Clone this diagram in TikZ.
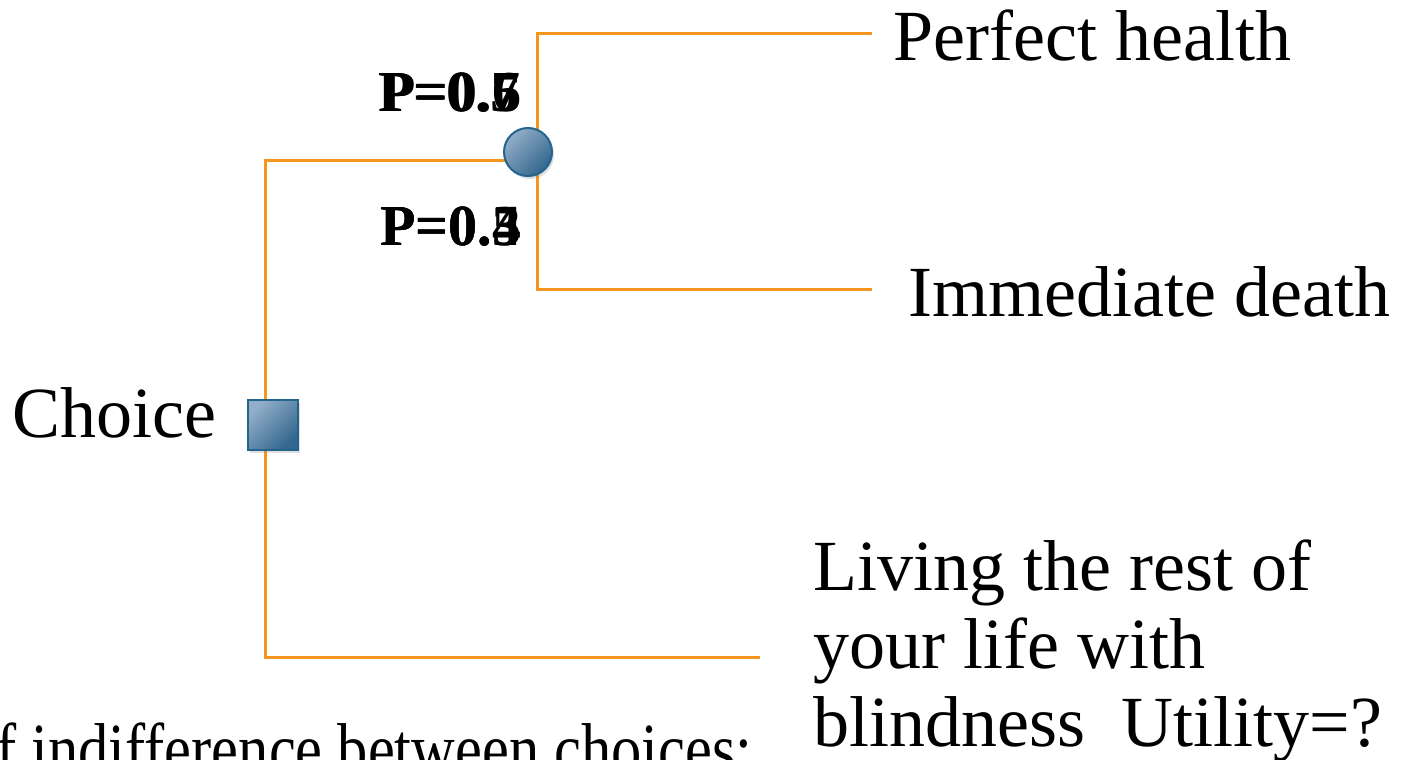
\documentclass[tikz,border=0pt]{standalone}
\usepackage{fontspec}
\setmainfont{Liberation Serif}
\usetikzlibrary{shadows}
\definecolor{branchcol}{RGB}{245,150,30}
\definecolor{nodeedge}{RGB}{34,100,140}
\definecolor{nodelight}{RGB}{146,174,200}
\definecolor{nodedark}{RGB}{50,102,142}
\begin{document}
\begin{tikzpicture}[x=0.5pt,y=-0.5pt,
  branch/.style={draw=branchcol, line width=1.5pt},
  txt/.style={anchor=base west, inner sep=0pt, font=\fontsize{36}{38.75}\selectfont},
  prob/.style={anchor=base west, inner sep=0pt, font=\fontsize{29}{31}\selectfont\bfseries},
  nodefill/.style={draw=nodeedge, line width=1pt, top color=nodelight, bottom color=nodedark, shading angle=45,
    drop shadow={shadow xshift=1pt, shadow yshift=-1.5pt, opacity=0.25}},
  chancenode/.style={nodefill, circle, minimum size=24pt, inner sep=0pt},
  decisionnode/.style={nodefill, rectangle, minimum size=25pt, inner sep=0pt}
]
\useasboundingbox (0,0) rectangle (1420,760);

% branch points
\coordinate (cin) at (528,160);
\coordinate (trunkTop) at (265,160);
\coordinate (trunkBot) at (265,657);
\coordinate (blindEnd) at (760,657);
\coordinate (upTop) at (537,33);
\coordinate (upEnd) at (872,33);
\coordinate (downBot) at (537,289);
\coordinate (downEnd) at (872,289);

\draw[branch] (cin) -- (trunkTop) -- (trunkBot) -- (blindEnd);
\draw[branch] (upEnd) -- (upTop) -- (downBot) -- (downEnd);

\node[decisionnode] (choicebox) at (273,425) {};
\node[chancenode] (chance) at (528,152) {};

% probabilities (overlaid)
\node[prob] (pua) at (378,111) {P=0.5};
\node[prob] (pub) at (380,111) {P=0.6};
\node[prob] (puc) at (379,111) {P=0.7};
\node[prob] (pda) at (380,245) {P=0.5};
\node[prob] (pdb) at (380,245) {P=0.4};
\node[prob] (pdc) at (380,245) {P=0.3};

% outcome texts
\node[txt] (perfect) at (893,61) {Perfect health};
\node[txt] (death) at (908,316) {Immediate death};
\node[txt] (choice) at (12,437) {Choice};
\node[txt] (liv1) at (813,590) {Living the rest of};
\node[txt] (liv2) at (813,668) {your life with};
\node[txt] (liv3) at (813,746) {blindness\ \ Utility=?};
\node[txt] (note) at (-4,773) {\scalebox{0.84}[1]{f indifference between choices:}};
\end{tikzpicture}
\end{document}
